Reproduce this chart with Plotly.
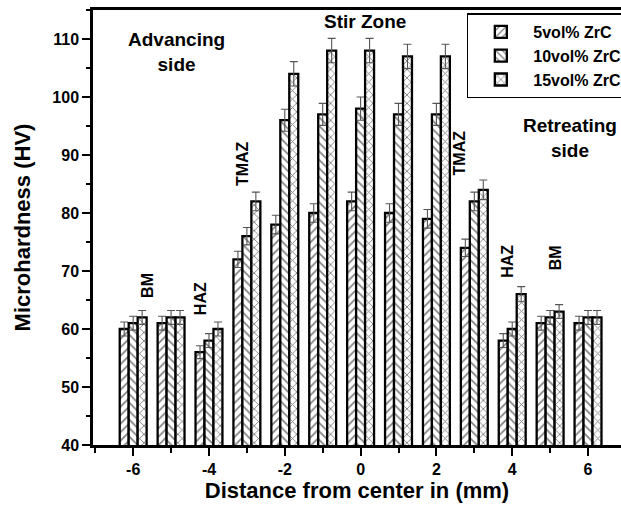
import plotly.graph_objects as go

# Distance from weld centre (mm)
distance = [-6, -5, -4, -3, -2, -1, 0, 1, 2, 3, 4, 5, 6]

# Microhardness (HV) per reinforcement content
hv_5 = [60, 61, 56, 72, 78, 80, 82, 80, 79, 74, 58, 61, 61]
hv_10 = [61, 62, 58, 76, 96, 97, 98, 97, 97, 82, 60, 62, 62]
hv_15 = [62, 62, 60, 82, 104, 108, 108, 107, 107, 84, 66, 63, 62]

# Measurement scatter (HV)
err_5 = [1.2, 1.2, 1.1, 1.4, 1.6, 1.6, 1.6, 1.6, 1.6, 1.5, 1.2, 1.2, 1.2]
err_10 = [1.2, 1.2, 1.2, 1.5, 1.9, 1.9, 2.0, 1.9, 1.9, 1.6, 1.2, 1.2, 1.2]
err_15 = [1.2, 1.2, 1.2, 1.6, 2.1, 2.1, 2.1, 2.1, 2.1, 1.7, 1.3, 1.2, 1.2]

series_names = ["5vol% ZrC", "10vol% ZrC", "15vol% ZrC"]
FONT = "Liberation Sans, Arial, sans-serif"

fig = go.Figure()
for name, vals, errs, shape in zip(series_names, [hv_5, hv_10, hv_15],
                                   [err_5, err_10, err_15], ["/", "\\", "x"]):
    fig.add_trace(go.Bar(
        x=distance, y=vals, name=name,
        marker=dict(color="white",
                    line=dict(color="black", width=2.3),
                    pattern=dict(shape=shape, fgcolor="black", bgcolor="white",
                                 size=6, solidity=0.28)),
        error_y=dict(type="data", array=errs, visible=True,
                     color="#555555", thickness=1.1, width=4),
    ))

# Zone labels
zone_labels = [
    dict(text="Advancing<br>side", x=-4.85, y=107.8, angle=0, size=19),
    dict(text="Stir Zone", x=0.11, y=113.1, angle=0, size=19),
    dict(text="Retreating<br>side", x=5.52, y=92.9, angle=0, size=19),
    dict(text="BM", x=-5.61, y=67.6, angle=-90, size=16),
    dict(text="HAZ", x=-4.24, y=65.3, angle=-90, size=16),
    dict(text="TMAZ", x=-3.13, y=88.6, angle=-90, size=16),
    dict(text="TMAZ", x=2.6, y=90.3, angle=-90, size=16),
    dict(text="HAZ", x=3.89, y=71.6, angle=-90, size=16),
    dict(text="BM", x=5.13, y=72.2, angle=-90, size=16),
]
for lab in zone_labels:
    fig.add_annotation(text="<b>" + lab["text"] + "</b>", x=lab["x"], y=lab["y"],
                       xref="x", yref="y", showarrow=False, textangle=lab["angle"],
                       font=dict(family=FONT, size=lab["size"], color="black"),
                       xanchor="center", yanchor="middle")

fig.update_layout(
    width=621, height=510,
    margin=dict(l=93, r=0, t=10, b=65, autoexpand=False),
    paper_bgcolor="white", plot_bgcolor="white",
    barmode="group", bargap=0.29, bargroupgap=0,
    font=dict(family=FONT, color="black"),
    legend=dict(x=0.708, y=0.992, xanchor="left", yanchor="top",
                bordercolor="black", borderwidth=1.5, bgcolor="white",
                font=dict(family=FONT, size=16, color="black", weight="bold"),
                tracegroupgap=0, itemwidth=55,
                entrywidth=170, entrywidthmode="pixels"),
)

fig.update_xaxes(
    range=[-7.06, 6.87], showline=True, linecolor="black", linewidth=2.5,
    mirror=True, showgrid=False, zeroline=False,
    tickmode="array", tickvals=[-6, -4, -2, 0, 2, 4, 6],
    ticktext=["<b>-6</b>", "<b>-4</b>", "<b>-2</b>", "<b>0</b>", "<b>2</b>", "<b>4</b>", "<b>6</b>"],
    ticks="outside", ticklen=8, tickwidth=2, tickcolor="black",
    tickfont=dict(family=FONT, size=16, color="black"),
    minor=dict(ticks="outside", ticklen=5, tickwidth=2, tickcolor="black", dtick=1, tick0=-7, showgrid=False),
    title=dict(text="<b>Distance from center in (mm)</b>", font=dict(family=FONT, size=22, color="black"), standoff=6),
)
fig.update_yaxes(
    range=[40, 115], showline=True, linecolor="black", linewidth=2.5,
    mirror=False, showgrid=False, zeroline=False,
    tickmode="array", tickvals=[40, 50, 60, 70, 80, 90, 100, 110],
    ticktext=["<b>%d</b>" % v for v in [40, 50, 60, 70, 80, 90, 100, 110]],
    ticks="outside", ticklen=8, tickwidth=2, tickcolor="black",
    tickfont=dict(family=FONT, size=16, color="black"),
    minor=dict(ticks="outside", ticklen=4, tickwidth=2, tickcolor="black", dtick=5, tick0=40, showgrid=False),
    title=dict(text="<b>Microhardness (HV)</b>", font=dict(family=FONT, size=22, color="black"), standoff=16),
)

fig.write_html("out.html")
